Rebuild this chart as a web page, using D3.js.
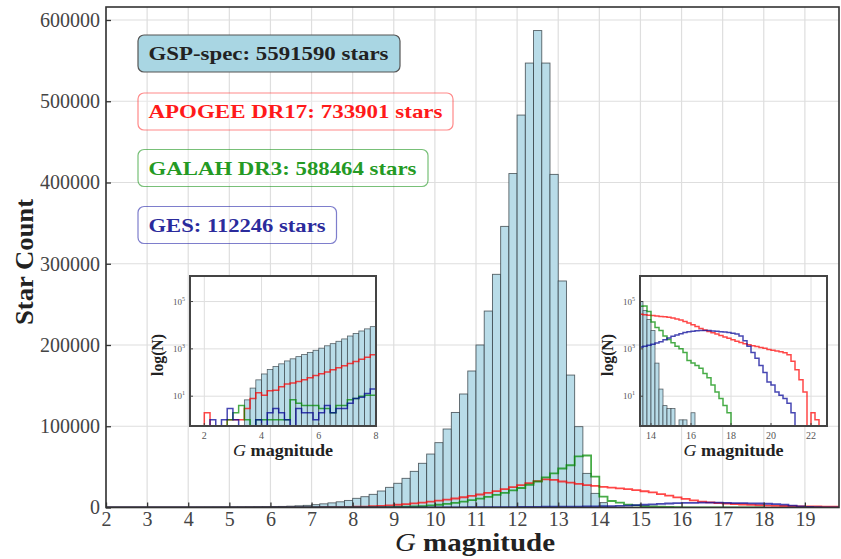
<!DOCTYPE html>
<html><head><meta charset="utf-8">
<script src="https://cdn.jsdelivr.net/npm/d3@7"></script>
<style>body{margin:0;background:#fff}svg{display:block}text{font-family:"Liberation Serif","DejaVu Serif",serif}</style>
</head><body><svg id="c" width="841" height="559"></svg>
<script>
// ---------------- DATA ----------------
const binWidth = 0.2;
// GSP-spec counts per 0.2 mag bin, first bin starts at G = 3.4
const gspStart = 3.4;
const gspCounts = [7,22,49,87,135,181,233,309,380,470,575,710,870,1070,1350,1660,2090,2630,3500,4500,5700,7000,8700,
  11300,13300,16200,20300,24800,29800,35900,44500,54400,65800,79800,96600,117000,139700,168000,
  200000,241800,287000,346000,411000,483000,547000,587000,547000,410000,278800,163000,99500,42000,17400,
  6000,250,20,4,3,3,0,1,1,0,2];
// APOGEE DR17 counts, first bin starts at G = 2.0
const apogeeStart = 2.0;
const apogeeCounts = [2,0,0,0,1,1,1,3,8,14,
  11,17,18,25,33,36,42,50,60,75,
  88,105,130,160,195,240,290,360,440,560,
  900,1200,1600,2100,2700,3400,4200,5100,6100,7200,
  8400,9700,11100,12600,14200,16000,18000,20200,22600,25000,
  27500,30000,32500,34500,34000,32000,30500,29000,27500,26500,
  25500,24500,23500,22500,21500,20000,18500,16500,14500,12500,
  10500,8800,7300,6200,5400,4800,4200,3700,3200,2800,
  2400,2100,1850,1650,1500,1350,1250,1150,1050,950,
  880,820,760,680,560,300,130,50,15,0,2,1];
// GALAH DR3 counts, first bin starts at G = 2.0
const galahStart = 2.0;
const galahCounts = [0,0,0,0,1,2,4,1,0,1,
  1,1,1,1,1,7,5,4,4,4,
  3,3,2,4,4,7,8,10,11,11,
  70,110,170,260,400,600,900,1300,1800,2500,
  3400,4500,5800,7300,9000,11000,13000,15500,18000,21000,
  24000,28000,32000,37000,42000,48000,52000,63000,64000,38000,
  13500,8000,6000,3500,2500,1800,1300,1000,700,320,
  250,200,150,90,60,30,15,8,4,2];
// GES counts, first bin starts at G = 2.0
const gesStart = 2.0;
const gesCounts = [0,1,0,1,3,1,0,0,0,1,
  0,2,3,2,1,0,3,2,2,1,
  2,4,2,3,3,5,8,9,13,20,
  22,28,34,40,48,56,70,85,100,120,
  145,170,200,240,280,330,380,440,500,570,
  650,730,820,900,980,1050,1120,1200,1300,1420,
  1550,1750,2000,2400,2900,3400,3900,4400,4900,5300,
  5600,5800,6000,6000,5900,5700,5500,5300,5100,4900,
  4600,4200,3500,2200,1300,700,400,200,100,40,
  30,15,11,8,5,2];

const mainXTicks = [2,3,4,5,6,7,8,9,10,11,12,13,14,15,16,17,18,19];
const mainYTicks = [0,100000,200000,300000,400000,500000,600000];
const leftInsetXTicks = [2,4,6,8];
const rightInsetXTicks = [14,16,18,20,22];
const insetYTicks = [10,1000,100000];
const insetYTickExp = ["1","3","5"];
const legendLabels = ["GSP-spec: 5591590 stars","APOGEE DR17: 733901 stars","GALAH DR3: 588464 stars","GES: 112246 stars"];

// ---------------- HELPERS ----------------
function toBins(start, counts){
  return counts.map((v,i)=>({x0: start + i*binWidth, x1: start + (i+1)*binWidth, v}));
}
const gspBins = toBins(gspStart, gspCounts);
const series = [
  {bins: toBins(apogeeStart, apogeeCounts), color:"rgba(255,0,0,0.72)"},
  {bins: toBins(galahStart, galahCounts), color:"rgba(0,140,0,0.72)"},
  {bins: toBins(gesStart, gesCounts), color:"rgba(0,0,150,0.72)"}
];
function stepPoints(bins){
  const pts=[[bins[0].x0,0]];
  bins.forEach(b=>{pts.push([b.x0,b.v]);pts.push([b.x1,b.v]);});
  pts.push([bins[bins.length-1].x1,0]);
  return pts;
}

const svg = d3.select("#c");
const defs = svg.append("defs");
const barFill = "#b9dce8", barStroke = "rgba(40,50,55,0.75)", gridC = "#dedede";

// ---------------- MAIN PLOT ----------------
const M = {l:106, r:839, t:7, b:507.5};
const x = d3.scaleLinear().domain([2,19.83]).range([M.l,M.r]);
const y = d3.scaleLinear().domain([0,616000]).range([M.b,M.t]);

defs.append("clipPath").attr("id","mclip").append("rect")
  .attr("x",M.l).attr("y",M.t).attr("width",M.r-M.l).attr("height",M.b-M.t);

const grid = svg.append("g");
grid.selectAll(".vx").data(mainXTicks).join("line")
  .attr("x1",d=>x(d)).attr("x2",d=>x(d)).attr("y1",M.t).attr("y2",M.b)
  .attr("stroke",gridC).attr("stroke-width",1.2);
grid.selectAll(".hy").data(mainYTicks.filter(d=>d>0)).join("line")
  .attr("x1",M.l).attr("x2",M.r).attr("y1",d=>y(d)).attr("y2",d=>y(d))
  .attr("stroke",gridC).attr("stroke-width",1.2);

const plot = svg.append("g").attr("clip-path","url(#mclip)");
plot.selectAll("rect").data(gspBins).join("rect")
  .attr("x",d=>x(d.x0)).attr("width",d=>x(d.x1)-x(d.x0))
  .attr("y",d=>y(d.v)).attr("height",d=>M.b-y(d.v))
  .attr("fill",barFill).attr("stroke",barStroke).attr("stroke-width",0.9);
const line = d3.line().x(d=>x(d[0])).y(d=>y(d[1]));
series.forEach(s=>{
  plot.append("path").attr("d",line(stepPoints(s.bins)))
    .attr("fill","none").attr("stroke",s.color).attr("stroke-width",1.8);
});

// axes
const axX = svg.append("g").attr("transform",`translate(0,${M.b})`)
  .call(d3.axisBottom(x).tickValues(mainXTicks).tickSize(-5).tickPadding(4).tickFormat(d3.format("d")));
const axY = svg.append("g").attr("transform",`translate(${M.l},0)`)
  .call(d3.axisLeft(y).tickValues(mainYTicks).tickSize(-5).tickPadding(6).tickFormat(d3.format("d")));
[axX,axY].forEach(a=>{
  a.select(".domain").remove();
  a.selectAll(".tick line").attr("stroke","#333").attr("stroke-width",1.3);
  a.selectAll(".tick text").attr("fill","#444").attr("font-size",20)
   .attr("font-family","Liberation Serif, serif");
});
svg.append("rect").attr("x",M.l).attr("y",M.t).attr("width",M.r-M.l).attr("height",M.b-M.t)
  .attr("fill","none").attr("stroke","#333").attr("stroke-width",1.6);

// axis titles
svg.append("text").attr("x",475).attr("y",551).attr("text-anchor","middle")
  .attr("font-size",26).attr("fill","#222").attr("textLength",160).attr("lengthAdjust","spacingAndGlyphs")
  .call(t=>{t.append("tspan").attr("font-style","italic").text("G");
            t.append("tspan").attr("font-weight","bold").text(" magnitude");});
svg.append("text").attr("transform","translate(33,262) rotate(-90)").attr("text-anchor","middle")
  .attr("font-size",25).attr("font-weight","bold").attr("fill","#222")
  .attr("textLength",126).attr("lengthAdjust","spacingAndGlyphs").text("Star Count");

// ---------------- LEGEND BOXES ----------------
const legendBoxes = [
  {y:35, w:262, tw:240, fill:"#a9d6e3", stroke:"#555", tc:"#222"},
  {y:93, w:315, tw:294, fill:"rgba(255,255,255,0.3)", stroke:"rgba(255,60,60,0.6)", tc:"#ff1a1a"},
  {y:149.5, w:290, tw:268, fill:"rgba(255,255,255,0.3)", stroke:"rgba(30,150,30,0.6)", tc:"#249a24"},
  {y:206.5, w:198.5, tw:177, fill:"rgba(255,255,255,0.3)", stroke:"rgba(40,40,170,0.6)", tc:"#2b2b9c"}
];
legendBoxes.forEach((b,i)=>{
  svg.append("rect").attr("x",138).attr("y",b.y).attr("width",b.w).attr("height",37).attr("rx",6)
    .attr("fill",b.fill).attr("stroke",b.stroke).attr("stroke-width",1.2);
  svg.append("text").attr("x",148.5).attr("y",b.y+25).attr("font-size",19).attr("font-weight","bold")
    .attr("fill",b.tc).attr("textLength",b.tw).attr("lengthAdjust","spacingAndGlyphs").text(legendLabels[i]);
});

// ---------------- INSETS ----------------
function drawInset(fr, xDom, xTicks, id, ylabX){
  const g = svg.append("g");
  const xi = d3.scaleLinear().domain(xDom).range([fr.l,fr.r]);
  const yi = d3.scaleLog().domain([0.55,1.2e6]).range([fr.b,fr.t]).clamp(true);
  const yv = v => v>0 ? yi(v) : fr.b;
  g.append("rect").attr("x",fr.l).attr("y",fr.t).attr("width",fr.r-fr.l).attr("height",fr.b-fr.t).attr("fill","#fff");
  defs.append("clipPath").attr("id",id).append("rect")
    .attr("x",fr.l).attr("y",fr.t).attr("width",fr.r-fr.l).attr("height",fr.b-fr.t);
  g.selectAll(".gx").data(xTicks).join("line").attr("x1",d=>xi(d)).attr("x2",d=>xi(d))
    .attr("y1",fr.t).attr("y2",fr.b).attr("stroke",gridC).attr("stroke-width",1);
  g.selectAll(".gy").data(insetYTicks).join("line").attr("y1",d=>yi(d)).attr("y2",d=>yi(d))
    .attr("x1",fr.l).attr("x2",fr.r).attr("stroke",gridC).attr("stroke-width",1);
  const p = g.append("g").attr("clip-path",`url(#${id})`);
  p.selectAll("rect").data(gspBins.filter(d=>d.v>0)).join("rect")
    .attr("x",d=>xi(d.x0)).attr("width",d=>xi(d.x1)-xi(d.x0))
    .attr("y",d=>yv(d.v)).attr("height",d=>fr.b-yv(d.v))
    .attr("fill",barFill).attr("stroke",barStroke).attr("stroke-width",0.8);
  const ln = d3.line().x(d=>xi(d[0])).y(d=>yv(d[1]));
  series.forEach(s=>{
    p.append("path").attr("d",ln(stepPoints(s.bins))).attr("fill","none")
      .attr("stroke",s.color).attr("stroke-width",1.5);
  });
  g.selectAll(".tx").data(xTicks).join("line").attr("x1",d=>xi(d)).attr("x2",d=>xi(d))
    .attr("y1",fr.b).attr("y2",fr.b-3).attr("stroke","#444");
  g.selectAll(".ty").data(insetYTicks).join("line").attr("y1",d=>yi(d)).attr("y2",d=>yi(d))
    .attr("x1",fr.l).attr("x2",fr.l+3).attr("stroke","#444");
  g.append("rect").attr("x",fr.l).attr("y",fr.t).attr("width",fr.r-fr.l).attr("height",fr.b-fr.t)
    .attr("fill","none").attr("stroke","#444").attr("stroke-width",2);
  g.selectAll(".lx").data(xTicks).join("text").attr("x",d=>xi(d)).attr("y",fr.b+13)
    .attr("text-anchor","middle").attr("font-size",10).attr("fill","#555").text(d=>d);
  g.selectAll(".ly").data(insetYTicks).join("text").attr("x",fr.l-5).attr("y",d=>yi(d)+3)
    .attr("text-anchor","end").attr("font-size",9).attr("fill","#555")
    .each(function(d,i){
      const t=d3.select(this);
      t.append("tspan").text("10");
      t.append("tspan").attr("font-size",6).attr("dy",-4).text(insetYTickExp[i]);
    });
  g.append("text").attr("x",(fr.l+fr.r)/2).attr("y",fr.b+30).attr("text-anchor","middle")
    .attr("font-size",17).attr("fill","#222").attr("textLength",100).attr("lengthAdjust","spacingAndGlyphs")
    .call(t=>{t.append("tspan").attr("font-style","italic").text("G");
              t.append("tspan").attr("font-weight","bold").text(" magnitude");});
  g.append("text").attr("transform",`translate(${ylabX},${(fr.t+fr.b)/2+4}) rotate(-90)`)
    .attr("text-anchor","middle").attr("font-size",17).attr("font-weight","bold").attr("fill","#222")
    .attr("textLength",42).attr("lengthAdjust","spacingAndGlyphs").text("log(N)");
}
drawInset({l:190,r:376,t:276,b:426},[1.5,8],leftInsetXTicks,"ic1",163);
drawInset({l:640,r:827,t:276,b:426},[13.45,22.8],rightInsetXTicks,"ic2",613);
</script></body></html>
